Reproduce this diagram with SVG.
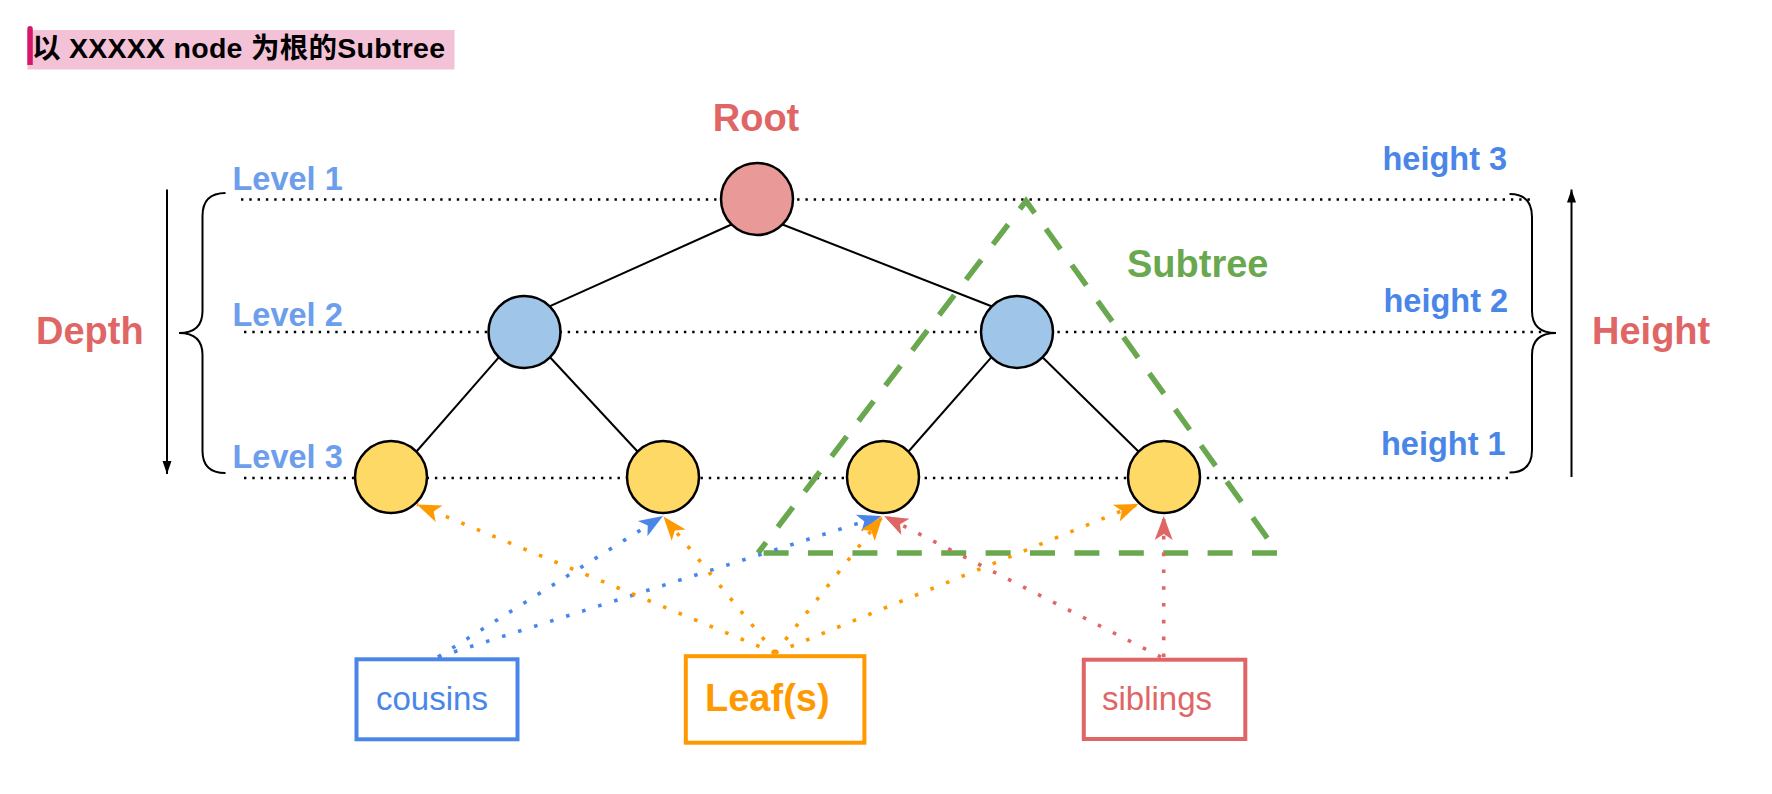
<svg xmlns="http://www.w3.org/2000/svg" width="1772" height="794" viewBox="0 0 1772 794">
<style>
  .lbl{font-family:"Liberation Sans","Noto Sans CJK SC",Arial,sans-serif;font-weight:bold}
  .reg{font-family:"Liberation Sans",Arial,sans-serif}
  .red{fill:#e06666}
  .lvl{fill:#6d9eeb;font-size:32.5px}
  .hgt{fill:#4a86e8;font-size:32.5px}
  .big{font-size:38px}
  .hdot{fill:none;stroke:#000;stroke-width:2.4;stroke-dasharray:2.4 5.9}
  .edge{fill:none;stroke:#000;stroke-width:2}
  .node{stroke:#000;stroke-width:2.5}
  .dot{fill:none;stroke-width:3.6;stroke-dasharray:3.6 13.2}
  .box{fill:#fff;stroke-width:4}
  .brace{fill:none;stroke:#000;stroke-width:2}
</style>
<defs>
  <marker id="ah-o" markerUnits="userSpaceOnUse" markerWidth="30" markerHeight="24" viewBox="-26 -12 28 24" refX="0" refY="0" orient="auto"><path d="M0,0 L-24,-9 L-18,0 L-24,9 Z" fill="#ff9900"/></marker>
  <marker id="ah-b" markerUnits="userSpaceOnUse" markerWidth="30" markerHeight="24" viewBox="-26 -12 28 24" refX="0" refY="0" orient="auto"><path d="M0,0 L-24,-9 L-18,0 L-24,9 Z" fill="#4a86e8"/></marker>
  <marker id="ah-r" markerUnits="userSpaceOnUse" markerWidth="30" markerHeight="24" viewBox="-26 -12 28 24" refX="0" refY="0" orient="auto"><path d="M0,0 L-24,-9 L-18,0 L-24,9 Z" fill="#e06666"/></marker>
  <marker id="ah-k" markerUnits="userSpaceOnUse" markerWidth="16" markerHeight="12" viewBox="-14 -6 16 12" refX="0" refY="0" orient="auto"><path d="M0,0 L-13,-4.5 L-13,4.5 Z" fill="#000"/></marker>
</defs>
<rect width="1772" height="794" fill="#fff"/>

<g id="title">
  <rect x="27.5" y="30" width="427" height="39.5" fill="#f4c2d7"/>
  <path d="M27.3,65 V29 Q27.3,26 30,26 Q32.8,26 32.8,29 V65 Z" fill="#d6176b"/>
  <text class="lbl" x="32" y="58" font-size="28.5" textLength="413" lengthAdjust="spacing" fill="#000">以 XXXXX node 为根的Subtree</text>
</g>

<g id="guides">
  <line class="hdot" x1="241" y1="199.5" x2="1531" y2="199.5"/>
  <line class="hdot" x1="244" y1="332" x2="1542" y2="332"/>
  <line class="hdot" x1="244" y1="478" x2="1508" y2="478"/>
  <path class="brace" d="M225.5,193 Q202.5,193 202.5,216 L202.5,311 Q202.5,333 179,333 Q202.5,333 202.5,355 L202.5,451 Q202.5,473 225.5,473"/>
  <path class="brace" d="M1509.5,194 Q1532,194 1532,217 L1532,311 Q1532,333 1556,333 Q1532,333 1532,355 L1532,450 Q1532,472.5 1509.5,472.5"/>
  <line x1="167" y1="189.5" x2="167" y2="474" stroke="#000" stroke-width="2" marker-end="url(#ah-k)"/>
  <line x1="1571.5" y1="477" x2="1571.5" y2="189.5" stroke="#000" stroke-width="2" marker-end="url(#ah-k)"/>
</g>

<g id="connectors">
  <line class="edge" x1="731.5" y1="224.5" x2="550" y2="306.2"/>
  <line class="edge" x1="782.5" y1="224.5" x2="991.5" y2="306.2"/>
  <line class="edge" x1="499" y1="357.2" x2="416.5" y2="451.5"/>
  <line class="edge" x1="550" y1="357.2" x2="637.5" y2="451.5"/>
  <line class="edge" x1="991.5" y1="357.2" x2="908.5" y2="451.5"/>
  <line class="edge" x1="1042.5" y1="357.2" x2="1138.5" y2="451.5"/>
</g>

<g id="subtree-outline">
  <path d="M758,553 H1278 L1026,201 Z" fill="none" stroke="#6aa84f" stroke-width="5.5" stroke-dasharray="25 19.4" stroke-dashoffset="-5.6"/>
</g>

<g id="node-root"><circle class="node" cx="757" cy="199" r="36" fill="#ea9999"/></g>
<g id="node-b1"><circle class="node" cx="524.5" cy="332" r="36" fill="#9fc5e8"/></g>
<g id="node-b2"><circle class="node" cx="1017" cy="332" r="36" fill="#9fc5e8"/></g>
<g id="node-y1"><circle class="node" cx="391" cy="477" r="36" fill="#ffd966"/></g>
<g id="node-y2"><circle class="node" cx="663" cy="477" r="36" fill="#ffd966"/></g>
<g id="node-y3"><circle class="node" cx="883" cy="477" r="36" fill="#ffd966"/></g>
<g id="node-y4"><circle class="node" cx="1164" cy="477" r="36" fill="#ffd966"/></g>

<g id="pointers">
  <line class="dot" stroke="#4a86e8" x1="438" y1="657" x2="663" y2="516" marker-end="url(#ah-b)"/>
  <line class="dot" stroke="#4a86e8" x1="438" y1="657" x2="881.5" y2="516" marker-end="url(#ah-b)"/>
  <line class="dot" stroke="#ff9900" x1="775" y1="653" x2="417" y2="504.5" marker-end="url(#ah-o)"/>
  <line class="dot" stroke="#ff9900" x1="775" y1="653" x2="663.5" y2="516.5" marker-end="url(#ah-o)"/>
  <line class="dot" stroke="#ff9900" x1="775" y1="653" x2="882.5" y2="516.5" marker-end="url(#ah-o)"/>
  <line class="dot" stroke="#ff9900" x1="775" y1="653" x2="1138.5" y2="504" marker-end="url(#ah-o)"/>
  <line class="dot" stroke="#e06666" x1="1161" y1="657" x2="884" y2="516" marker-end="url(#ah-r)"/>
  <line class="dot" stroke="#e06666" x1="1163.7" y1="657" x2="1163.7" y2="516" marker-end="url(#ah-r)"/>
</g>

<g id="box-cousins">
  <rect class="box" x="356.5" y="659.3" width="161" height="80" stroke="#4a86e8"/>
  <text class="reg" x="376" y="710" font-size="33" fill="#4a86e8">cousins</text>
</g>
<g id="box-leafs">
  <rect class="box" x="685.8" y="656.2" width="178.6" height="86.5" stroke="#ff9900" stroke-width="4.5"/>
  <text class="lbl big" x="705" y="711" fill="#ff9900">Leaf(s)</text>
</g>
<g id="box-siblings">
  <rect class="box" x="1083.8" y="659.7" width="161.5" height="79.3" stroke="#e06666"/>
  <text class="reg" x="1102" y="709.5" font-size="33" fill="#e06666">siblings</text>
</g>

<g id="labels">
  <text class="lbl big red" x="756" y="130.5" text-anchor="middle">Root</text>
  <text class="lbl big red" x="36" y="344">Depth</text>
  <text class="lbl big red" x="1592" y="344">Height</text>
  <text class="lbl big" x="1127" y="277" fill="#6aa84f">Subtree</text>
  <text class="lbl lvl" x="232.5" y="190">Level 1</text>
  <text class="lbl lvl" x="232.5" y="325.5">Level 2</text>
  <text class="lbl lvl" x="232.5" y="467.5">Level 3</text>
  <text class="lbl hgt" x="1382.5" y="169.5">height 3</text>
  <text class="lbl hgt" x="1383.5" y="312">height 2</text>
  <text class="lbl hgt" x="1381" y="455">height 1</text>
</g>
</svg>
